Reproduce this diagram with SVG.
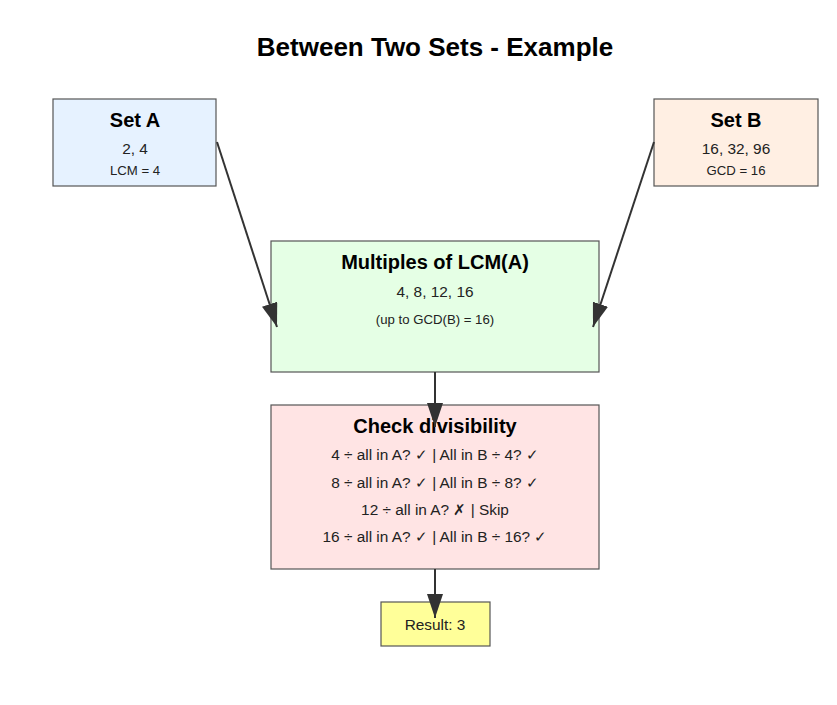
<svg xmlns="http://www.w3.org/2000/svg" width="837" height="705" viewBox="0 0 837 705">
<style>
text{font-family:"Liberation Sans",Arial,sans-serif;fill:#000;text-anchor:middle}
.box{stroke:#555;stroke-width:1.2}
.h{font-weight:bold;font-size:20px}
.t{font-size:15.4px;fill:#222}
.s{font-size:13.2px;fill:#222}
.edge{stroke:#333;stroke-width:2;fill:none;marker-end:url(#ah)}
</style>
<defs>
<marker id="ah" markerUnits="userSpaceOnUse" markerWidth="24" markerHeight="16" viewBox="0 0 24 16" refX="24" refY="8" orient="auto">
<path d="M0,0 L24,8 L0,16 z" fill="#333"/>
</marker>
</defs>
<rect width="837" height="705" fill="#fff"/>
<text x="435" y="56" style="font-weight:bold;font-size:26px">Between Two Sets - Example</text>
<g id="setA">
<rect class="box" x="53" y="99" width="163" height="87" fill="#e6f2ff"/>
<text class="h" x="135" y="127">Set A</text>
<text class="t" x="135" y="154">2, 4</text>
<text class="s" x="135" y="175">LCM = 4</text>
</g>
<g id="setB">
<rect class="box" x="654" y="99" width="164" height="87" fill="#ffefe3"/>
<text class="h" x="736" y="127">Set B</text>
<text class="t" x="736" y="154">16, 32, 96</text>
<text class="s" x="736" y="175">GCD = 16</text>
</g>
<g id="multiples">
<rect class="box" x="271" y="241" width="328" height="131" fill="#e5ffe5"/>
<text class="h" x="435" y="269">Multiples of LCM(A)</text>
<text class="t" x="435" y="297">4, 8, 12, 16</text>
<text class="s" x="435" y="324">(up to GCD(B) = 16)</text>
</g>
<g id="check">
<rect class="box" x="271" y="405" width="328" height="164" fill="#ffe4e4"/>
<text class="h" x="435" y="433">Check divisibility</text>
<text class="t" x="435" y="460">4 ÷ all in A? ✓ | All in B ÷ 4? ✓</text>
<text class="t" x="435" y="488">8 ÷ all in A? ✓ | All in B ÷ 8? ✓</text>
<text class="t" x="435" y="515">12 ÷ all in A? ✗ | Skip</text>
<text class="t" x="435" y="542">16 ÷ all in A? ✓ | All in B ÷ 16? ✓</text>
</g>
<g id="result">
<rect class="box" x="381" y="602" width="109" height="44" fill="#ffff99"/>
<text class="t" x="435" y="630">Result: 3</text>
</g>
<g id="connectors">
<line class="edge" x1="217" y1="142" x2="277" y2="327"/>
<line class="edge" x1="654" y1="142" x2="593" y2="327"/>
<line class="edge" x1="435" y1="372" x2="435" y2="427"/>
<line class="edge" x1="435" y1="569" x2="435" y2="618"/>
</g>
</svg>
